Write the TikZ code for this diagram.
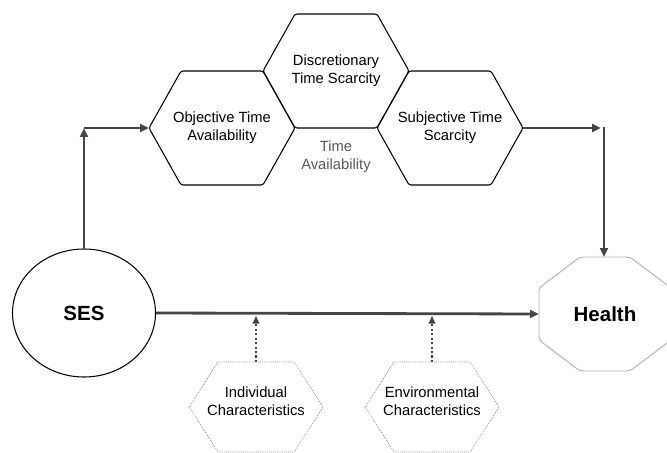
\documentclass[tikz,border=0pt]{standalone}
\usepackage{fontspec}
\setmainfont{Liberation Sans}
\usetikzlibrary{calc, arrows.meta, positioning, shapes.geometric}
\definecolor{arrowGray}{gray}{0.27}
\definecolor{dotGray}{gray}{0.5}
\definecolor{rimGray}{gray}{0.7}
\definecolor{noteGray}{gray}{0.35}

% hexagon round a centre: centre, half width, half top edge, half height, style
\newcommand{\hexpath}[5]{%
  \draw[#5] ($(#1)+(-#2,0)$) -- ($(#1)+(-#3,-#4)$) -- ($(#1)+(#3,-#4)$)
    -- ($(#1)+(#2,0)$) -- ($(#1)+(#3,#4)$) -- ($(#1)+(-#3,#4)$) -- cycle;}

\tikzset{
  lbl/.style={align=center, font=\fontsize{12.6}{15.3}\selectfont},
  bigLbl/.style={font=\fontsize{17.5}{20}\selectfont\bfseries},
  hexLine/.style={draw=black, line width=0.9pt, rounded corners=2pt},
  cueLine/.style={draw=dotGray, densely dotted, line width=0.6pt},
  flow/.style={-{Triangle[length=7.5pt,width=6.5pt]}, line width=2.4pt, draw=arrowGray},
  cue/.style={-{Triangle[length=6.5pt,width=5.5pt]}, dotted, line width=1.8pt, draw=arrowGray},
}

\begin{document}
\begin{tikzpicture}[x=0.03cm, y=-0.03cm, >=stealth]
    \clip (0,0) rectangle (667,453);

    % time availability hexagons
    \coordinate (objC) at (222,128);
    \coordinate (disC) at (336,71);
    \coordinate (subC) at (450,128);
    \hexpath{objC}{73}{41}{57}{hexLine}
    \hexpath{disC}{73}{41}{57}{hexLine}
    \hexpath{subC}{73}{41}{57}{hexLine}
    \node[lbl] (obj) at (objC) {Objective Time\\Availability};
    \node[lbl] (dis) at (disC) {Discretionary\\Time Scarcity};
    \node[lbl] (sub) at (subC) {Subjective Time\\Scarcity};
    \node[lbl, text=noteGray] (tav) at (336,157) {Time\\Availability};
    \coordinate (objW) at ($(objC)+(-73,0)$);
    \coordinate (subE) at ($(subC)+(73,0)$);

    % SES and Health
    \node[draw, ellipse, line width=0.9pt, minimum width=4.29cm, minimum height=3.84cm,
          bigLbl] (ses) at (84,313) {SES};
    \coordinate (hlthC) at (605,314);
    \draw[draw=rimGray, line width=0.8pt, rounded corners=3pt]
        ($(hlthC)+(-66,-26)$) -- ($(hlthC)+(-25,-57)$) -- ($(hlthC)+(25,-57)$)
        -- ($(hlthC)+(66,-26)$) -- ($(hlthC)+(66,26)$) -- ($(hlthC)+(25,57)$)
        -- ($(hlthC)+(-25,57)$) -- ($(hlthC)+(-66,26)$) -- cycle;
    \node[bigLbl] (hlth) at (hlthC) {Health};
    \coordinate (hlthW) at ($(hlthC)+(-66,0)$);
    \coordinate (hlthN) at (604,257);
    \coordinate (cornerL) at (ses.north |- objW);
    \coordinate (cornerR) at (604,128);

    % moderators
    \coordinate (indC) at (256,407);
    \coordinate (envC) at (432,407);
    \hexpath{indC}{67}{38}{45}{cueLine}
    \hexpath{envC}{67}{38}{45}{cueLine}
    \node[lbl] (ind) at (256,401) {Individual\\Characteristics};
    \node[lbl] (env) at (432,401) {Environmental\\Characteristics};
    \coordinate (indN) at ($(indC)+(0,-45)$);
    \coordinate (envN) at ($(envC)+(0,-45)$);

    % connectors
    \draw[flow] (ses.north) -- (cornerL);
    \draw[flow] (cornerL) -- (objW);
    \draw[flow] (subE) -- ($(cornerR)+(-3,0)$);
    \draw[flow] ($(cornerR)+(0,-1)$) -- (hlthN);
    \draw[flow] (ses.east) -- (hlthW);
    \draw[cue, shorten >=2.5pt] (indN) -- (indN |- ses.east);
    \draw[cue, shorten >=2.5pt] (envN) -- (envN |- ses.east);
\end{tikzpicture}
\end{document}
